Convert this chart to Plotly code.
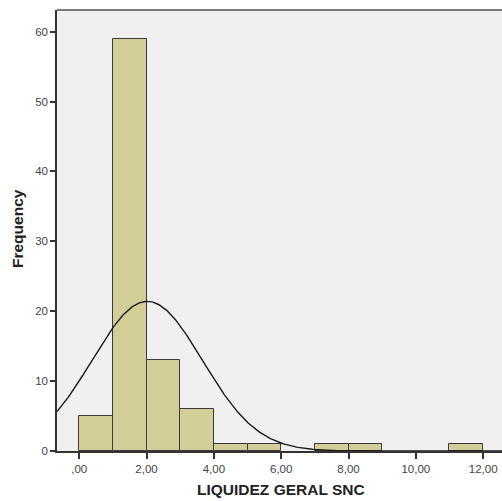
import numpy as np
import plotly.graph_objects as go

# Histogram bins (lower edges) and counts
bin_lefts = [0, 1, 2, 3, 4, 5, 7, 8, 11]
counts = [5, 59, 13, 6, 1, 1, 1, 1, 1]
bin_width = 1.0

# Normal curve parameters (as drawn by SPSS)
n_total = 88
mean_val = 2.02
std_val = 1.64

x_tickvals = [0, 2, 4, 6, 8, 10, 12]
x_ticktext = [",00", "2,00", "4,00", "6,00", "8,00", "10,00", "12,00"]
y_tickvals = [0, 10, 20, 30, 40, 50, 60]

x_range = [-0.66, 12.56]
y_range = [0, 63.1]

centers = [b + bin_width / 2 for b in bin_lefts]

xc = np.linspace(x_range[0], x_range[1], 400)
yc = n_total * bin_width / (std_val * np.sqrt(2 * np.pi)) * np.exp(-0.5 * ((xc - mean_val) / std_val) ** 2)

fig = go.Figure()
fig.add_trace(go.Bar(
    x=centers, y=counts, width=bin_width,
    marker=dict(color="#D3CE98", line=dict(color="#3A3A3A", width=1)),
    showlegend=False, hoverinfo="skip",
))
fig.add_trace(go.Scatter(
    x=xc, y=yc, mode="lines",
    line=dict(color="#1a1a1a", width=1.4),
    showlegend=False, hoverinfo="skip", cliponaxis=True,
))

fig.update_layout(
    width=502, height=501,
    margin=dict(l=57, r=0, t=10, b=50),
    paper_bgcolor="white",
    plot_bgcolor="#F0F0F0",
    bargap=0,
    font=dict(family="Arial, Liberation Sans, sans-serif", size=11, color="#333333"),
    xaxis=dict(
        range=x_range, tickvals=x_tickvals, ticktext=x_ticktext,
        showgrid=False, zeroline=False,
        showline=True, linecolor="#333333", linewidth=1.5,
        ticks="outside", ticklen=6, tickcolor="#333333", tickwidth=1.5,
        tickfont=dict(size=11.5, color="#444444"),
    ),
    yaxis=dict(
        range=y_range, tickvals=y_tickvals,
        showgrid=False, zeroline=False,
        showline=True, linecolor="#333333", linewidth=1.5,
        ticks="outside", ticklen=5, tickcolor="#333333", tickwidth=1.5,
        tickfont=dict(size=11.5, color="#444444"),
    ),
    shapes=[dict(type="line", xref="paper", yref="paper", x0=0, x1=1, y0=1, y1=1,
                 line=dict(color="#7A7A7A", width=2))],
    annotations=[
        dict(text="<b>LIQUIDEZ GERAL SNC</b>", xref="paper", yref="paper",
             x=(281 - 57) / 445, y=-38 / 441, xanchor="center", yanchor="middle",
             showarrow=False, font=dict(size=15.5, color="#222222")),
        dict(text="<b>Frequency</b>", xref="paper", yref="paper",
             x=-40 / 445, y=(451 - 229) / 441, xanchor="center", yanchor="middle",
             textangle=-90, showarrow=False, font=dict(size=15.5, color="#222222")),
    ],
)

fig.write_html("out.html")
